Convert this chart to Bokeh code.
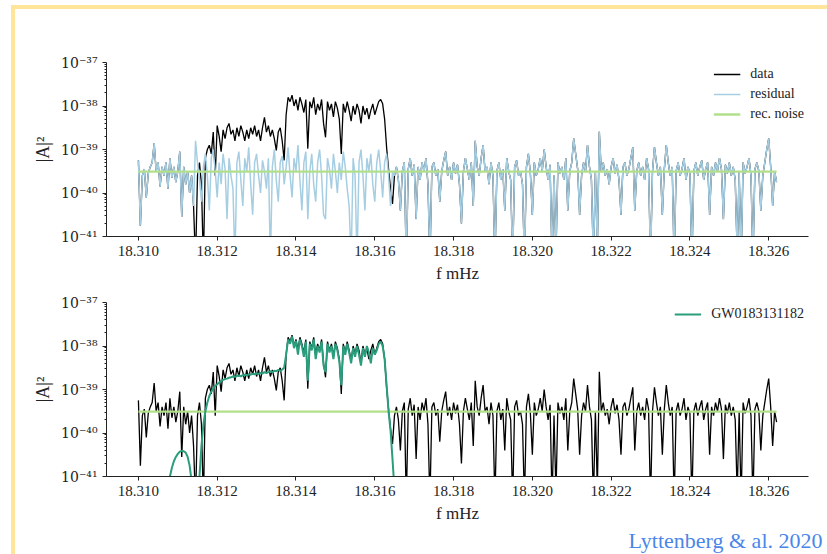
import numpy as np
from bokeh.plotting import figure
from bokeh.layouts import column
from bokeh.models import (FixedTicker, CustomJSTickFormatter, Range1d, Legend,
                          LegendItem, Title)
from bokeh.embed import file_html
from bokeh.resources import INLINE

# ---------------- data (log10 of |A|^2) ----------------
freq_start = 18.3100   # mHz
freq_end = 18.3262     # mHz

data_log = [
    -39.25, -40.75, -39.6, -39.45, -40.1, -39.55, -39.4, -39.3, -38.85, -39.5,
    -39.3, -39.85, -39.4, -39.6, -39.3, -39.9, -39.2, -39.65, -39.4, -39.75,
    -39.5, -39.05, -40.55, -39.4, -39.8,
    -39.5, -40.0, -39.6, -40.3, -41.6, -39.6, -39.3, -39.8, -41.6, -39.2,
    -39.0, -38.9, -39.1, -38.6, -39.6, -38.45, -38.7, -39.05, -38.55, -38.75,
    -38.5, -38.4, -38.65, -38.55, -38.8,
    -38.5, -38.7, -38.45, -38.6, -38.8, -38.55, -38.75, -38.5, -38.65, -38.45,
    -38.7, -38.55, -38.8, -38.5, -38.26, -38.6, -38.45, -38.7, -38.55, -38.75,
    -39.02, -38.6, -38.5, -38.8, -39.25,
    -38.2, -37.8, -37.9, -37.75, -38.0, -37.85, -38.1, -37.8, -37.95, -38.15,
    -37.85, -38.98, -37.9, -38.05, -37.8, -38.2, -37.95, -38.1, -37.85, -38.4,
    -38.72, -37.9, -38.1, -37.95, -38.25,
    -37.9, -38.05, -38.3, -39.1, -37.95, -38.15, -37.9, -38.1, -38.35, -38.0,
    -38.2, -37.95, -38.1, -38.4, -38.0, -38.2, -38.05, -38.3, -38.1, -37.95,
    -38.2, -38.05, -37.9, -37.85, -37.95,
    -38.3, -38.95, -39.45, -39.9, -40.25, -39.6, -39.4, -39.7, -40.4, -39.5,
    -39.3, -41.6, -39.45, -39.2, -39.6, -39.35, -40.6, -39.4, -39.7, -39.3,
    -39.5, -39.2, -39.8, -41.6, -39.4,
    -39.3, -39.6, -39.45, -40.2, -39.5, -39.25, -39.05, -39.6, -39.4, -39.7,
    -39.3, -39.55, -39.35, -39.8, -40.7, -39.5, -39.2, -39.45, -39.7, -39.3,
    -40.3, -38.8, -39.4, -39.6, -39.2,
    -38.9, -39.5, -39.4, -39.8, -39.3, -39.6, -41.6, -39.5, -39.3, -39.7,
    -39.45, -40.4, -39.2, -39.5, -39.7, -41.6, -39.4, -39.25, -39.6, -39.5,
    -39.8, -41.6, -39.4, -39.1, -39.55,
    -40.5, -39.3, -39.6, -39.45, -39.2, -39.5, -39.0, -39.4, -39.7, -39.35,
    -41.6, -39.6, -41.4, -39.3, -39.55, -39.4, -39.7, -39.2, -40.4, -39.5,
    -39.3, -38.75, -39.1, -39.45, -40.5,
    -39.6, -39.3, -39.5, -38.9, -39.4, -39.7, -41.6, -39.5, -41.3, -38.59,
    -39.5, -39.3, -39.6, -39.45, -39.8, -39.4, -39.2, -39.55, -39.35, -39.7,
    -40.5, -39.4, -39.3, -39.6, -39.45,
    -39.2, -38.95, -40.4, -39.5, -39.3, -39.6, -39.4, -39.7, -39.2, -39.45,
    -41.6, -39.5, -38.95, -39.3, -39.6, -39.4, -40.5, -39.45, -38.9, -39.3,
    -39.6, -39.4, -41.6, -39.5, -39.3,
    -39.6, -39.45, -39.2, -39.7, -39.4, -39.55, -41.6, -39.5, -39.3, -39.6,
    -39.4, -39.25, -39.7, -39.45, -39.3, -40.5, -39.4, -39.6, -39.3, -39.5,
    -39.2, -39.45, -40.6, -39.35, -39.55,
    -39.3, -39.6, -39.4, -39.7, -41.4, -39.5, -41.6, -39.3, -39.55, -39.4,
    -39.2, -39.6, -41.6, -39.45, -39.3, -39.5, -40.4, -39.6, -39.3, -39.0,
    -38.75, -39.4, -40.3, -39.5, -39.75,
]

# residual differs from data only inside the signal band (bins 28 onwards)
residual_start_bin = 28
residual_mid_log = [
    -40.3, -38.8, -39.3, -39.7, -40.2, -39.4, -39.1, -39.6, -40.4, -39.2,
    -39.0, -39.5, -40.1, -39.3, -39.8, -39.1, -39.45, -40.6, -39.2, -39.6,
    -39.9, -41.6,
    -39.3, -39.05, -39.7, -40.3, -39.2, -39.5, -38.95, -39.8, -40.5, -39.3,
    -39.1, -39.6, -40.0, -39.25, -39.5, -39.9, -39.2, -41.6, -39.4, -39.0,
    -39.7, -40.2, -39.3, -39.15, -39.8,
    -39.4, -38.95, -39.6, -40.1, -39.2, -39.5, -38.9, -39.7, -40.4, -39.3,
    -39.05, -40.6, -39.5, -39.1, -39.8, -40.2, -39.3, -39.0, -39.6, -40.5,
    -40.6, -39.2, -39.45, -39.9, -39.1,
    -39.5, -40.0, -39.3, -39.7, -39.05, -39.4, -39.9, -40.3, -41.6, -39.2,
    -39.6, -41.6, -39.3, -39.0, -39.6, -40.4, -39.2, -39.5, -39.1, -39.8,
    -40.2, -39.3, -39.0, -39.5, -40.1,
    -39.3, -39.1, -39.6, -40.3, -39.5, -39.6, -39.4,
]

# signal model GW0183131182 (starts at bin 14)
model_start_bin = 14
model_log = [
    -42.0, -41.5, -41.0, -40.8, -40.65, -40.55, -40.48, -40.43, -40.41, -40.42,
    -40.45, -40.55, -40.75, -41.1, -41.8, -42.5, -41.8, -41.0, -40.3, -39.8,
    -39.5, -39.3, -39.15, -39.05, -38.97, -38.92,
    -38.88, -38.84, -38.8, -38.78, -38.76, -38.75, -38.73, -38.72, -38.7, -38.71,
    -38.69, -38.68, -38.7, -38.67, -38.66, -38.68, -38.65, -38.66, -38.64, -38.65,
    -38.63, -38.64, -38.62, -38.63, -38.6, -38.62, -38.6, -38.58, -38.6, -38.57,
    -38.58, -38.55, -38.57, -38.54, -38.5,
    -38.2, -37.85, -37.95, -37.78, -38.05, -37.88, -38.2, -37.85, -38.0, -38.25,
    -37.9, -38.8, -37.95, -38.1, -37.85, -38.3, -38.0, -38.15, -37.9, -38.45,
    -38.6, -37.95, -38.15, -38.0, -38.3, -37.95, -38.1, -38.35, -38.9, -38.0,
    -38.2, -37.95, -38.15, -38.4, -38.05, -38.25, -38.0, -38.2, -38.45, -38.05,
    -38.25, -38.0, -38.15, -38.4, -38.05, -38.2, -38.1, -37.95, -37.9, -38.0,
    -38.3, -38.9, -39.5, -39.94, -40.6, -41.3, -42.0,
]

rec_noise = 3.1e-40

x_ticks = [18.310, 18.312, 18.314, 18.316, 18.318, 18.320, 18.322, 18.324, 18.326]
y_decades = [-41, -40, -39, -38, -37]

# ---------------- derived series ----------------
n = len(data_log)
freq = np.linspace(freq_start, freq_end, n)
data = 10.0 ** np.array(data_log)
res_log = (data_log[:residual_start_bin] + residual_mid_log
           + data_log[residual_start_bin + len(residual_mid_log):])
residual = 10.0 ** np.array(res_log[:n])
model_x = freq[model_start_bin:model_start_bin + len(model_log)]
model = 10.0 ** np.array(model_log[:len(model_x)])
noise_y = np.full(n, rec_noise)

# ---------------- styling ----------------
FONT = "Liberation Serif"
SUPFONT = "DejaVu Serif"
C_DATA = "#000000"
C_RES = "#a6cee3"
C_NOISE = "#b2df8a"
C_MODEL = "#2a9d7c"
AX = "#222222"

span = freq_end - freq_start
x_lo, x_hi = freq_start - 0.05 * span, freq_end + 0.05 * span

y_fmt = CustomJSTickFormatter(code="""
const e = Math.round(Math.log10(tick));
const sup = {"-":"\u207b","0":"\u2070","1":"\u00b9","2":"\u00b2","3":"\u00b3",
             "4":"\u2074","5":"\u2075","6":"\u2076","7":"\u2077","8":"\u2078","9":"\u2079"};
return "10" + String(e).split("").map(c => sup[c]).join("");
""")
x_fmt = CustomJSTickFormatter(code="return tick.toFixed(3);")

major_y = [10.0 ** d for d in y_decades]
minor_y = [m * 10.0 ** d for d in y_decades[:-1] for m in range(2, 10)]


def make_panel(height, top, bottom):
    p = figure(width=812, height=height, y_axis_type="log",
               x_range=Range1d(x_lo, x_hi), y_range=Range1d(1e-41, 1e-37),
               output_backend="svg", toolbar_location=None,
               min_border_left=91, min_border_right=19,
               min_border_top=top, min_border_bottom=bottom)
    p.outline_line_color = None
    p.grid.visible = False
    p.background_fill_color = "white"
    p.border_fill_color = "white"
    p.yaxis.ticker = FixedTicker(ticks=major_y, minor_ticks=minor_y)
    p.yaxis.formatter = y_fmt
    p.xaxis.ticker = FixedTicker(ticks=x_ticks)
    p.xaxis.formatter = x_fmt
    for ax in (p.xaxis[0], p.yaxis[0]):
        ax.axis_line_color = AX
        ax.axis_line_width = 1
        ax.major_tick_line_color = AX
        ax.minor_tick_line_color = AX
        ax.major_tick_out = 4
        ax.major_tick_in = 0
        ax.minor_tick_out = 2
        ax.minor_tick_in = 0
        ax.major_label_text_font = FONT
        ax.major_label_text_font_size = "15px"
        ax.major_label_text_color = AX
        ax.axis_label_text_font = FONT
        ax.axis_label_text_font_size = "17px"
        ax.axis_label_text_font_style = "normal"
        ax.axis_label_text_color = AX
        ax.major_label_standoff = 5
        ax.axis_label_standoff = 5
    p.yaxis.major_label_text_font = SUPFONT
    p.yaxis.major_label_text_font_size = "14px"
    p.yaxis.axis_label_text_font_size = "18px"
    p.yaxis.axis_label_standoff = 5
    p.xaxis.minor_tick_line_color = None
    p.xaxis.axis_label = "f mHz"
    p.yaxis.axis_label = "|A|\u00b2"
    return p


def style_legend(leg):
    leg.location = "top_right"
    leg.margin = 4
    leg.padding = 4
    leg.spacing = 4
    leg.glyph_height = 16
    leg.label_height = 16
    leg.glyph_width = 27
    leg.label_standoff = 10
    leg.label_text_font = FONT
    leg.label_text_font_size = "14px"
    leg.label_text_color = AX
    leg.border_line_color = None
    leg.background_fill_alpha = 0


# top panel
p1 = make_panel(276, 53, 49)
r_d1 = p1.line(freq, data, line_color=C_DATA, line_width=1.3)
r_r1 = p1.line(freq, residual, line_color=C_RES, line_width=1.5)
r_n1 = p1.line(freq, noise_y, line_color=C_NOISE, line_width=2.4)
leg1 = Legend(items=[LegendItem(label="data", renderers=[r_d1]),
                     LegendItem(label="residual", renderers=[r_r1]),
                     LegendItem(label="rec. noise", renderers=[r_n1])])
style_legend(leg1)
p1.add_layout(leg1, "center")

# bottom panel
p2 = make_panel(269, 17, 78)
p2.line(freq, data, line_color=C_DATA, line_width=1.3)
p2.line(freq, noise_y, line_color=C_NOISE, line_width=2.4)
r_m2 = p2.line(model_x, model, line_color=C_MODEL, line_width=2)
leg2 = Legend(items=[LegendItem(label="GW0183131182", renderers=[r_m2])])
style_legend(leg2)
p2.add_layout(leg2, "center")

# citation, placed as a title below the bottom panel
cite = Title(text="Lyttenberg & al. 2020", align="right", offset=-14,
             text_font=FONT, text_font_size="22px", text_color="#4a86e8",
             text_font_style="normal", standoff=0)
p2.add_layout(cite, "below")

page = column(p1, p2, margin=(5, 0, 0, 11),
              styles={"border-left": "4px solid #ffe599",
                      "border-top": "4px solid #ffe599"})

with open("out.html", "w", encoding="utf-8") as f:
    f.write(file_html(page, INLINE))
